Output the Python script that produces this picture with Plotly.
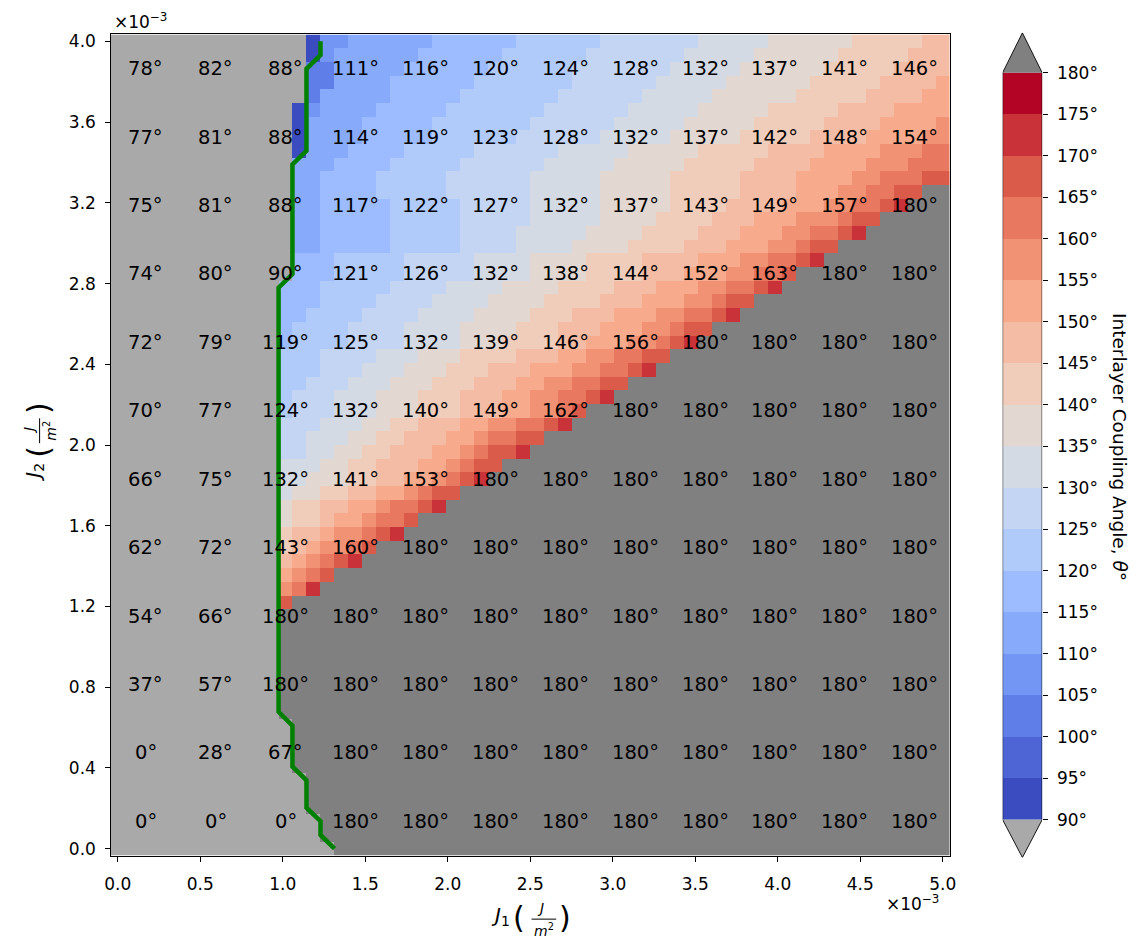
import numpy as np
import plotly.graph_objects as go

# Sample grid (J1, J2 in units of 1e-3 J/m^2)
j1_axis = np.linspace(0.0, 5.0, 60)
j2_axis = np.linspace(0.0, 4.0, 60)

# Grid indices that carry a printed angle
label_idx = list(range(2, 60, 5))

# Printed angles, bottom row first (degrees)
label_angles = [
    [0, 0, 0, 180, 180, 180, 180, 180, 180, 180, 180, 180],
    [0, 28, 67, 180, 180, 180, 180, 180, 180, 180, 180, 180],
    [37, 57, 180, 180, 180, 180, 180, 180, 180, 180, 180, 180],
    [54, 66, 180, 180, 180, 180, 180, 180, 180, 180, 180, 180],
    [62, 72, 143, 160, 180, 180, 180, 180, 180, 180, 180, 180],
    [66, 75, 132, 141, 153, 180, 180, 180, 180, 180, 180, 180],
    [70, 77, 124, 132, 140, 149, 162, 180, 180, 180, 180, 180],
    [72, 79, 119, 125, 132, 139, 146, 156, 180, 180, 180, 180],
    [74, 80, 89.6, 121, 126, 132, 138, 144, 152, 163, 180, 180],
    [75, 81, 88, 117, 122, 127, 132, 137, 143, 149, 157, 180],
    [77, 81, 88, 114, 119, 123, 128, 132, 137, 142, 148, 154],
    [78, 82, 88, 111, 116, 120, 124, 128, 132, 137, 141, 146],
]

# Colour band of every cell, row by row from the bottom.
# "col:band" starts a run; U = below 90 deg, X = 180 deg, a..r = 90-95 ... 175-180
band_rows = [
    "0:U 16:X", "0:U 15:X", "0:U 15:X", "0:U 14:X", "0:U 14:X", "0:U 14:X",
    "0:U 13:X", "0:U 13:X", "0:U 13:X", "0:U 13:X",
    "0:U 12:X", "0:U 12:X", "0:U 12:X", "0:U 12:X", "0:U 12:X", "0:U 12:X",
    "0:U 12:X", "0:U 12:X",
    "0:U 12:p 13:X",
    "0:U 12:n 13:o 14:q 15:X",
    "0:U 12:m 13:n 14:o 15:p 16:X",
    "0:U 12:l 13:m 14:n 15:o 16:p 17:q 18:X",
    "0:U 12:k 13:l 14:m 15:n 17:o 18:p 19:X",
    "0:U 12:k 13:l 15:m 16:n 18:o 19:p 20:q 21:X",
    "0:U 12:j 13:k 15:l 16:m 18:n 19:o 21:p 22:X",
    "0:U 12:j 13:k 15:l 17:m 19:n 20:o 22:p 23:q 24:X",
    "0:U 12:i 13:j 15:k 17:l 19:m 21:n 22:o 23:p 25:X",
    "0:U 12:i 14:j 17:k 19:l 21:m 23:n 24:o 25:p 26:q 27:X",
    "0:U 12:i 15:j 17:k 19:l 22:m 24:n 25:o 26:p 28:X",
    "0:U 12:h 14:i 16:j 18:k 20:l 23:m 25:n 26:o 27:p 29:q 30:X",
    "0:U 12:h 14:i 17:j 19:k 21:l 24:m 26:n 27:o 29:p 31:X",
    "0:U 12:h 15:i 18:j 20:k 22:l 25:m 27:n 29:o 31:p 32:q 33:X",
    "0:U 12:g 13:h 16:i 19:j 22:k 25:l 28:m 30:n 32:o 33:p 34:X",
    "0:U 12:g 13:h 16:i 19:j 22:k 25:l 28:m 30:n 32:o 34:p 35:q 36:X",
    "0:U 12:g 14:h 17:i 20:j 23:k 26:l 29:m 31:n 33:o 35:p 37:X",
    "0:U 12:g 15:h 18:i 21:j 24:k 27:l 30:m 33:n 35:o 37:p 38:q 39:X",
    "0:U 12:g 15:h 19:i 22:j 25:k 29:l 32:m 34:n 36:o 38:p 40:X",
    "0:U 12:f 13:g 17:h 21:i 25:j 28:k 32:l 34:m 37:n 39:o 40:p 41:q 42:X",
    "0:U 12:f 13:g 17:h 21:i 25:j 29:k 32:l 35:m 38:n 40:o 41:p 43:X",
    "0:U 12:f 14:g 18:h 22:i 26:j 30:k 33:l 36:m 39:n 41:o 43:p 44:q 45:X",
    "0:U 12:f 15:g 19:h 23:i 27:j 31:k 35:l 38:m 41:n 43:o 44:p 46:X",
    "0:U 12:f 15:g 20:h 24:i 28:j 32:k 36:l 39:m 42:n 44:o 46:p 47:q 48:X",
    "0:U 13:f 16:g 21:h 26:i 30:j 34:k 38:l 41:m 44:n 46:o 48:p 49:X",
    "0:U 13:f 16:g 21:h 26:i 30:j 34:k 38:l 42:m 45:n 47:o 49:p 50:q 51:X",
    "0:U 13:e 15:f 20:g 25:h 29:i 33:j 37:k 41:l 44:m 47:n 49:o 50:p 52:X",
    "0:U 13:e 15:f 20:g 25:h 29:i 34:j 38:k 42:l 45:m 48:n 50:o 52:p 53:q 54:X",
    "0:U 13:e 15:f 20:g 25:h 30:i 35:j 39:k 43:l 46:m 49:n 52:o 53:p 55:X",
    "0:U 13:e 15:f 20:g 25:h 30:i 35:j 40:k 44:l 48:m 51:n 53:o 55:p 56:q 57:X",
    "0:U 13:e 15:f 19:g 24:h 30:i 35:j 40:k 45:l 49:m 52:n 54:o 56:p 58:X",
    "0:U 13:e 15:f 19:g 24:h 30:i 35:j 40:k 45:l 49:m 53:n 55:o 58:p",
    "0:U 13:e 16:f 20:g 25:h 31:i 36:j 41:k 46:l 50:m 54:n 57:o",
    "0:U 13:a 14:e 17:f 21:g 26:h 32:i 37:j 42:k 47:l 51:m 55:n 58:o",
    "0:U 13:a 14:e 18:f 23:g 29:h 35:i 40:j 45:k 50:l 54:m 58:n",
    "0:U 13:a 14:e 18:f 23:g 30:h 36:i 41:j 46:k 51:l 55:m 59:n",
    "0:U 13:a 14:d 15:e 19:f 24:g 31:h 37:i 42:j 47:k 52:l 56:m",
    "0:U 14:c 15:e 20:f 25:g 32:h 38:i 43:j 49:k 54:l 58:m",
    "0:U 14:c 16:e 20:f 26:g 33:h 39:i 44:j 50:k 55:l 59:m",
    "0:U 14:c 16:e 21:f 27:g 33:h 40:i 45:j 51:k 56:l",
    "0:U 14:a 15:d 16:e 22:f 28:g 34:h 41:i 46:j 52:k 57:l",
    "0:U 14:a 15:d 17:e 23:f 29:g 35:h 42:i 47:j 53:k 58:l",
]

# Phase boundary path (J1, J2 in units of 1e-3 J/m^2)
boundary_j1 = [1.314, 1.229, 1.229, 1.144, 1.144, 1.059, 1.059, 0.975,
               0.975, 1.059, 1.059, 1.144, 1.144, 1.229, 1.229]
boundary_j2 = [0.000, 0.068, 0.136, 0.203, 0.339, 0.407, 0.610, 0.678,
               2.780, 2.847, 3.390, 3.458, 3.864, 3.932, 4.000]

level_edges = list(range(90, 185, 5))

# ---------------------------------------------------------------- colours
band_colors = ["#3b4cc0", "#4d65d5", "#5f7ee7", "#7396f4", "#87aafb", "#9cbcff",
               "#b0cafa", "#c3d5f2", "#d4dae3", "#e3d7d1", "#f0cdbb", "#f4bca4",
               "#f7aa8c", "#f19275", "#e87860", "#da5b4a", "#c83238", "#b40426"]
under_color = "#a9a9a9"
over_color = "#808080"

zmin, zmax = 85.0, 185.0
bounds = [zmin] + level_edges + [zmax]
all_colors = [under_color] + band_colors + [over_color]


def nz(v):
    return (v - zmin) / (zmax - zmin)


colorscale = []
for m, c in enumerate(all_colors):
    lo = nz(bounds[m])
    hi = nz(bounds[m + 1])
    colorscale.append([lo, c])
    colorscale.append([hi if m == len(all_colors) - 1 else hi - 1e-6, c])

band_letters = "abcdefghijklmnopqr"


def band_value(code):
    if code == "U":
        return 85.0
    if code == "X":
        return 180.0
    return level_edges[band_letters.index(code)] + 2.5


z = np.zeros((len(j2_axis), len(j1_axis)))
for i, row in enumerate(band_rows):
    runs = [(int(a), b) for a, b in (t.split(":") for t in row.split())]
    for n, (start, code) in enumerate(runs):
        end = runs[n + 1][0] if n + 1 < len(runs) else len(j1_axis)
        z[i, start:end] = band_value(code)
for r, i in enumerate(label_idx):
    for c, j in enumerate(label_idx):
        z[i, j] = label_angles[r][c]

W, H = 1143, 943


def px(x):
    return x / W


def py(y):
    return 1 - y / H


FONT = "DejaVu Sans"
NBSP = "\u00a0"

fig = go.Figure()
fig.add_trace(go.Heatmap(
    x=j1_axis, y=j2_axis, z=z, colorscale=colorscale, zmin=zmin, zmax=zmax,
    showscale=False, hoverinfo="skip", xaxis="x", yaxis="y"))

fig.add_trace(go.Scatter(
    x=boundary_j1, y=boundary_j2, mode="lines",
    line=dict(color="#008000", width=4.5), hoverinfo="skip",
    showlegend=False, xaxis="x", yaxis="y"))

annotations = []
for r, i in enumerate(label_idx):
    for c, j in enumerate(label_idx):
        annotations.append(dict(
            x=j1_axis[j], y=j2_axis[i], xref="x", yref="y",
            text=f"{label_angles[r][c]:.0f}°", showarrow=False,
            font=dict(family=FONT, size=19.5, color="black")))

# ------------------------------------------------------------- colour bar
bar_mid = [e + 2.5 for e in level_edges[:-1]]
fig.add_trace(go.Heatmap(
    x=[0.5], y=bar_mid, z=[[v] for v in bar_mid], colorscale=colorscale,
    zmin=zmin, zmax=zmax, showscale=False, hoverinfo="skip",
    xaxis="x2", yaxis="y2"))
top_tip, bottom_tip = 184.8, 85.45
fig.add_trace(go.Scatter(
    x=[0, 1, 0.5, 0], y=[180, 180, top_tip, 180], fill="toself",
    fillcolor=over_color, mode="lines", line=dict(width=0),
    hoverinfo="skip", showlegend=False, xaxis="x2", yaxis="y2"))
fig.add_trace(go.Scatter(
    x=[0, 1, 0.5, 0], y=[90, 90, bottom_tip, 90], fill="toself",
    fillcolor=under_color, mode="lines", line=dict(width=0),
    hoverinfo="skip", showlegend=False, xaxis="x2", yaxis="y2"))
fig.add_trace(go.Scatter(
    x=[0, 0.5, 1, 1, 0.5, 0, 0], y=[90, bottom_tip, 90, 180, top_tip, 180, 90],
    mode="lines", line=dict(color="black", width=0.9),
    hoverinfo="skip", showlegend=False, xaxis="x2", yaxis="y2"))

# ------------------------------------------------------------- axis titles
def add_text(x, y, text, size, angle=0, anchor="center"):
    annotations.append(dict(
        x=px(x), y=py(y), xref="paper", yref="paper", text=text,
        showarrow=False, textangle=angle, xanchor=anchor, yanchor="middle",
        font=dict(family=FONT, size=size, color="black")))


add_text(500, 919, "<i>J</i><sub>1</sub>", 20)
add_text(518, 920, "(", 30)
add_text(540, 911, "<i>J</i>", 14)
add_text(544, 933, "<i>m</i><sup>2</sup>", 14)
add_text(565, 920, ")", 30)

add_text(27, 472, "<i>J</i><sub>2</sub>", 20, angle=-90)
add_text(32, 452, "(", 30, angle=-90)
add_text(23, 430, "<i>J</i>", 14, angle=-90)
add_text(44, 430, "<i>m</i><sup>2</sup>", 14, angle=-90)
add_text(32, 408, ")", 30, angle=-90)

add_text(106, 18, "×10<sup>−3</sup>", 17, anchor="left")
add_text(946, 906, "×10<sup>−3</sup>", 17, anchor="right")
add_text(1127, 447, "Interlayer Coupling Angle, <i>θ</i>°", 18.5, angle=90)

shapes = [
    dict(type="line", xref="paper", yref="paper", x0=px(531), x1=px(556),
         y0=py(922), y1=py(922), line=dict(color="black", width=1)),
    dict(type="line", xref="paper", yref="paper", x0=px(33), x1=px(33),
         y0=py(418), y1=py(443), line=dict(color="black", width=1)),
]

axis_common = dict(ticks="outside", ticklen=5, tickwidth=1, tickcolor="black",
                   showgrid=False, zeroline=False,
                   tickfont=dict(family=FONT, size=17, color="black"))

x_ticks = [0.0, 0.5, 1.0, 1.5, 2.0, 2.5, 3.0, 3.5, 4.0, 4.5, 5.0]
y_ticks = [0.0, 0.4, 0.8, 1.2, 1.6, 2.0, 2.4, 2.8, 3.2, 3.6, 4.0]

fig.update_layout(
    width=W, height=H, margin=dict(l=0, r=0, t=0, b=0),
    paper_bgcolor="white", plot_bgcolor="white", showlegend=False,
    xaxis=dict(domain=[px(105), px(954.4)], range=[-0.0424, 5.0424],
               tickvals=x_ticks, ticktext=[f"{v:.1f}" for v in x_ticks],
               showline=True, mirror=True, linecolor="black", linewidth=1,
               anchor="y", ticklabelstandoff=8, **axis_common),
    yaxis=dict(domain=[py(858), py(31.7)], range=[-0.0339, 4.0339],
               tickvals=y_ticks, ticktext=[f"{v:.1f}{NBSP}" for v in y_ticks],
               showline=True, mirror=True, linecolor="black", linewidth=1,
               anchor="x", **axis_common),
    xaxis2=dict(domain=[px(1008), px(1048)], range=[0, 1], visible=False,
                anchor="y2"),
    yaxis2=dict(domain=[py(860), py(30)], range=[bottom_tip, top_tip],
                side="right", anchor="x2", tickvals=level_edges,
                ticktext=[f"{NBSP}{v}°" for v in level_edges], showline=False,
                **axis_common),
    annotations=annotations, shapes=shapes,
)

fig.write_html("out.html")
